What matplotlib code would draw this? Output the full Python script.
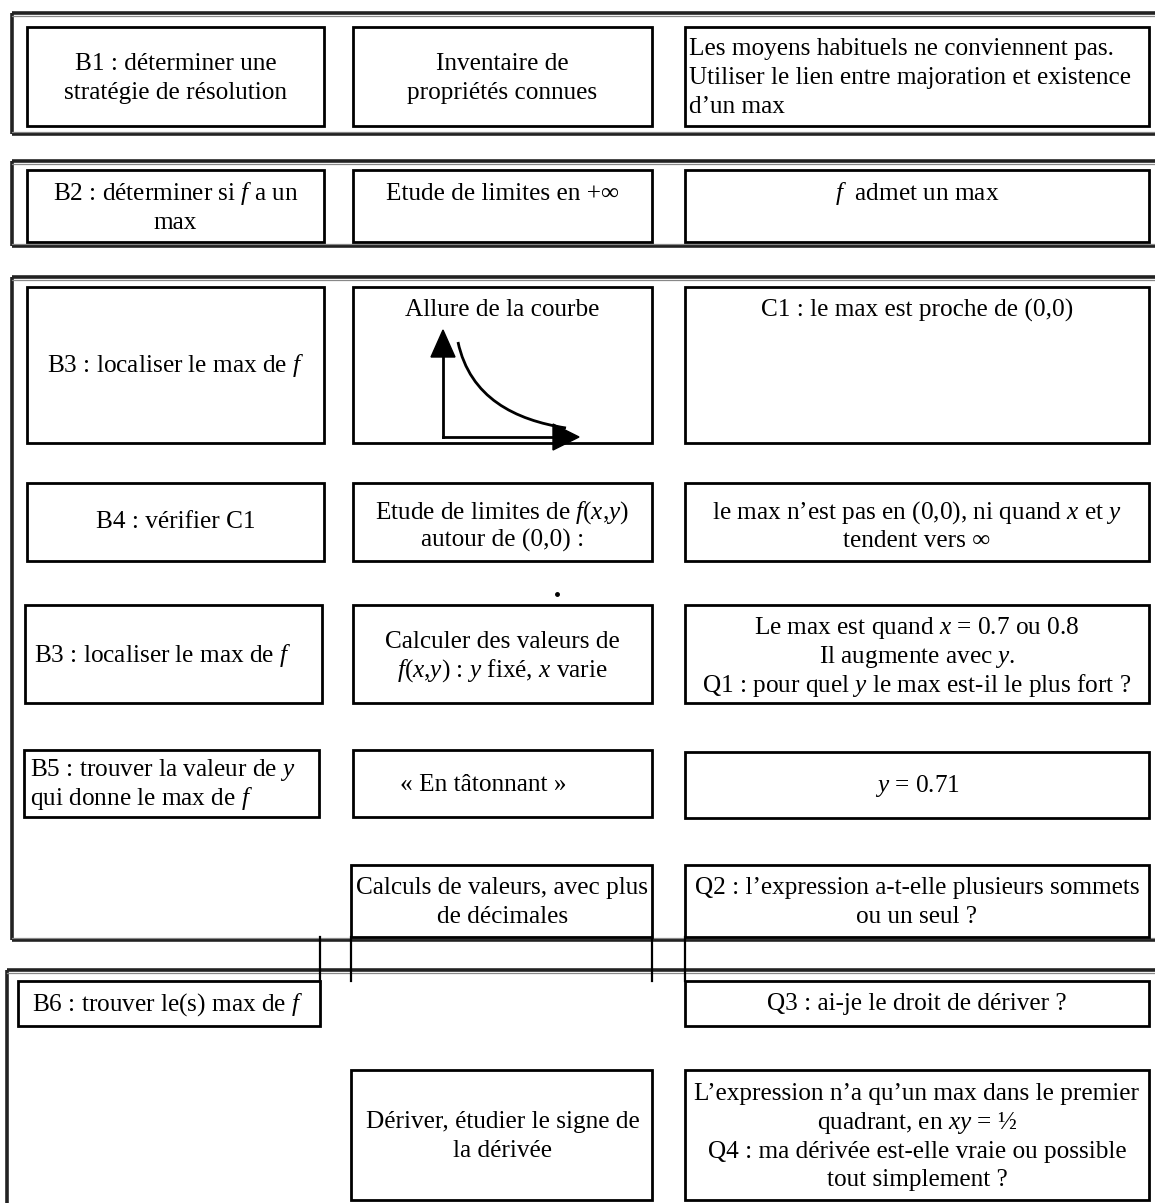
import matplotlib
matplotlib.use("Agg")
import matplotlib.pyplot as plt
from matplotlib.patches import Rectangle, Polygon, PathPatch
from matplotlib.path import Path

plt.rcParams['font.family'] = ['Liberation Serif', 'DejaVu Serif']
plt.rcParams['mathtext.fontset'] = 'custom'
plt.rcParams['mathtext.rm'] = 'Liberation Serif'
plt.rcParams['mathtext.it'] = 'Liberation Serif:italic'

# ---- content ----
col1_texts = [
    "B1 : déterminer une\nstratégie de résolution",
    "B2 : déterminer si $f$ a un\nmax",
    "B3 : localiser le max de $f$",
    "B4 : vérifier C1",
    "B3 : localiser le max de $f$",
    "B5 : trouver la valeur de $y$\nqui donne le max de $f$",
    "B6 : trouver le(s) max de $f$",
]
col2_texts = [
    "Inventaire de\npropriétés connues",
    "Etude de limites en +∞",
    "Allure de la courbe",
    "Etude de limites de $\\mathit{f(x{,}y)}$\nautour de (0,0) :",
    "Calculer des valeurs de\n$\\mathit{f(x{,}y)}$ : $y$ fixé, $x$ varie",
    "« En tâtonnant »",
    "Calculs de valeurs, avec plus\nde décimales",
    "Dériver, étudier le signe de\nla dérivée",
]
col3_texts = [
    "Les moyens habituels ne conviennent pas.\nUtiliser le lien entre majoration et existence\nd’un max",
    "$f$  admet un max",
    "C1 : le max est proche de (0,0)",
    "le max n’est pas en (0,0), ni quand $x$ et $y$\ntendent vers ∞",
    "Le max est quand $x$ = 0.7 ou 0.8\nIl augmente avec $y$.\nQ1 : pour quel $y$ le max est-il le plus fort ?",
    "$y$ = 0.71",
    "Q2 : l’expression a-t-elle plusieurs sommets\nou un seul ?",
    "Q3 : ai-je le droit de dériver ?",
    "L’expression n’a qu’un max dans le premier\nquadrant, en $xy$ = ½\nQ4 : ma dérivée est-elle vraie ou possible\ntout simplement ?",
]

# sketch curve: control points of the hand-drawn decreasing curve
curve_x = [458, 470, 515, 566]
curve_y = [342, 398, 420, 428]

W, H = 1155, 1203
fig = plt.figure(figsize=(W / 100, H / 100), dpi=100)
ax = fig.add_axes([0, 0, 1, 1])
ax.set_xlim(0, W)
ax.set_ylim(H, 0)
ax.axis('off')

FS = 18.2
LINE = 28.7      # line pitch in px
BASE_OFF = 7.3   # baseline below visual line centre
BOX_LW = 2.0
GRP_LW = 2.6


def box(x0, y0, x1, y1, lw=BOX_LW):
    ax.add_patch(Rectangle((x0, y0), x1 - x0, y1 - y0, fill=False,
                           edgecolor='black', lw=lw, zorder=3))


def txt(x, y_first, s, ha='center'):
    for i, line in enumerate(s.split('\n')):
        ax.text(x, y_first + i * LINE + BASE_OFF, line, ha=ha, va='baseline',
                fontsize=FS, color='black', zorder=4)


def group(x0, y0, y1, bottom=True):
    kw = dict(color='#222222', lw=GRP_LW, solid_capstyle='butt', zorder=2)
    ax.plot([x0, W + 5], [y0, y0], **kw)
    ax.plot([x0, x0], [y0, y1 if bottom else H + 5], **kw)
    if bottom:
        ax.plot([x0, W + 5], [y1, y1], **kw)
    kw2 = dict(color='#888888', lw=0.9, zorder=2)
    ax.plot([x0, W + 5], [y0 + 2.5, y0 + 2.5], **kw2)
    if bottom:
        ax.plot([x0, W + 5], [y1 - 2.5, y1 - 2.5], **kw2)


# group frames
group(12, 13, 134)
group(12, 161, 246)
group(12, 277, 940)
group(7, 970, None, bottom=False)

# column extents
C1 = (27, 324)
C2 = (353, 652)
C3 = (685, 1149)
c1m = sum(C1) / 2
c2m = sum(C2) / 2
c3m = sum(C3) / 2

# row 1
box(C1[0], 27, C1[1], 126); txt(c1m, 63, col1_texts[0])
box(C2[0], 27, C2[1], 126); txt(c2m, 63, col2_texts[0])
box(C3[0], 27, C3[1], 126); txt(C3[0] + 4, 48, col3_texts[0], ha='left')

# row 2
box(C1[0], 170, C1[1], 242); txt(c1m, 193, col1_texts[1])
box(C2[0], 170, C2[1], 242); txt(c2m, 193, col2_texts[1])
box(C3[0], 170, C3[1], 242); txt(c3m, 193, col3_texts[1])

# row B3
box(C1[0], 287, C1[1], 443); txt(c1m, 365, col1_texts[2])
box(C2[0], 287, C2[1], 443); txt(c2m, 309, col2_texts[2])
box(C3[0], 287, C3[1], 443); txt(c3m, 309, col3_texts[2])

# sketch of the curve inside "Allure de la courbe"
ax.plot([443, 443], [437, 352], color='black', lw=2.0, zorder=5)
ax.add_patch(Polygon([[443, 330], [431, 357], [455, 357]], closed=True,
                     color='black', zorder=5))
ax.plot([443, 556], [437, 437], color='black', lw=2.0, zorder=5)
ax.add_patch(Polygon([[579, 437], [553, 424], [553, 450]], closed=True,
                     color='black', zorder=5))
pth = Path(list(zip(curve_x, curve_y)),
           [Path.MOVETO, Path.CURVE4, Path.CURVE4, Path.CURVE4])
ax.add_patch(PathPatch(pth, fill=False, lw=2.0, edgecolor='black', zorder=5))

# row B4
box(C1[0], 483, C1[1], 561); txt(c1m, 521, col1_texts[3])
box(C2[0], 483, C2[1], 561); txt(c2m, 511, col2_texts[3])
box(C3[0], 483, C3[1], 561); txt(c3m, 511, col3_texts[3])

# row B3 (second)
box(25, 605, 322, 703); txt(34, 655, col1_texts[4], ha='left')
box(C2[0], 605, C2[1], 703); txt(c2m, 641, col2_texts[4])
box(C3[0], 605, C3[1], 703); txt(c3m, 627, col3_texts[4])
ax.plot([557], [594], marker='o', ms=2.5, color='black')

# row B5
box(24, 750, 319, 817); txt(30, 769, col1_texts[5], ha='left')
box(C2[0], 750, C2[1], 817); txt(483, 784, col2_texts[5])
box(C3[0], 752, C3[1], 818); txt(c3m, 785, col3_texts[5])

# row Q2
box(351, 865, C2[1], 937); txt(c2m, 887, col2_texts[6])
box(C3[0], 865, C3[1], 937); txt(c3m, 887, col3_texts[6])

# connecting vertical strokes between groups
for xv, y0, y1 in [(320, 937, 981), (351, 937, 981), (652, 937, 981),
                   (685, 937, 981)]:
    ax.plot([xv, xv], [y0, y1], color='black', lw=1.6, zorder=3)

# last group
box(18, 981, 320, 1026); txt(32, 1003, col1_texts[6], ha='left')
box(C3[0], 981, C3[1], 1026); txt(c3m, 1003, col3_texts[7])
box(351, 1070, C2[1], 1200); txt(c2m, 1121, col2_texts[7])
box(C3[0], 1070, C3[1], 1200); txt(c3m, 1093, col3_texts[8])

fig.savefig("out.png", dpi=100, facecolor='white')
